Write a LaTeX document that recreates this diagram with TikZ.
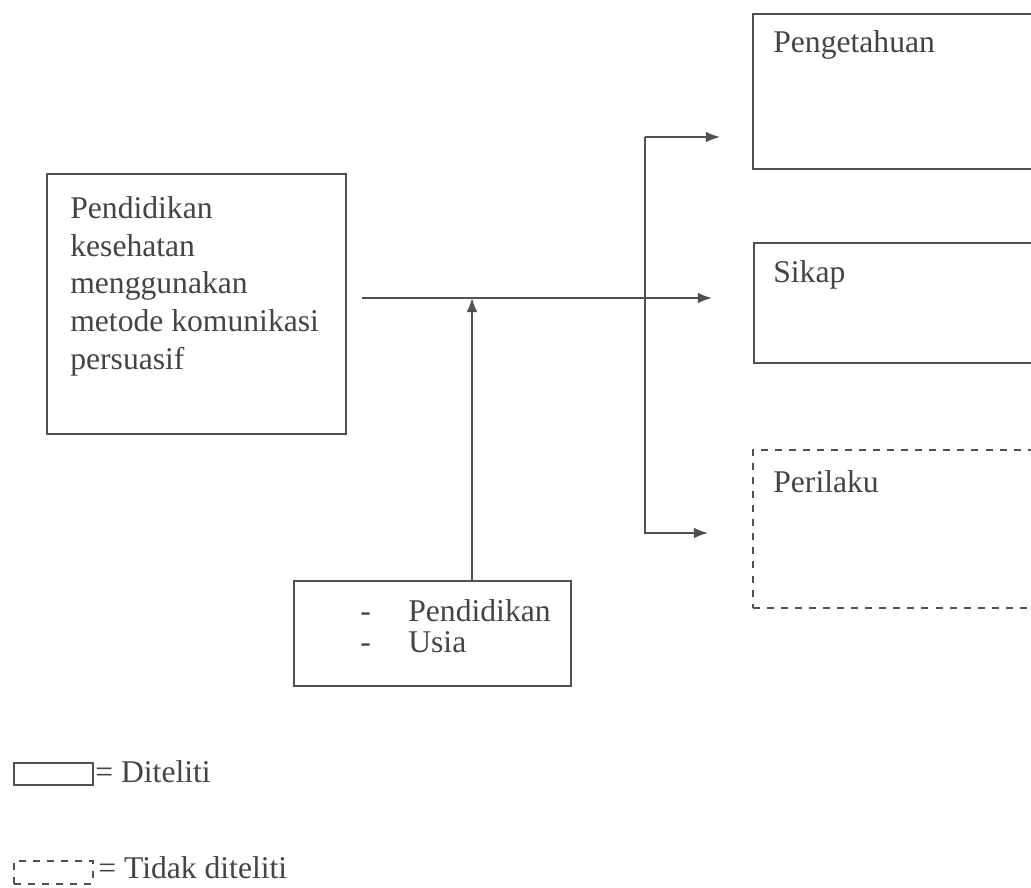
\documentclass[tikz,border=0pt]{standalone}
\usepackage{fontspec}
\setmainfont{Liberation Serif}
\usetikzlibrary{arrows.meta}
\definecolor{garis}{HTML}{505050}
\definecolor{tulisan}{HTML}{444444}
\tikzset{
  kotak/.style={draw=garis, line width=0.9pt, anchor=north west, inner sep=0pt},
  putus/.style={kotak, dash pattern=on 4pt off 4pt},
  teks/.style={anchor=base west, inner sep=0pt, text=tulisan, font=\fontsize{18}{21.5}\selectfont},
  panah/.style={draw=garis, line width=0.9pt, -{Latex[length=8pt,width=6pt]}}
}
\begin{document}
\begin{tikzpicture}[x=0.02cm, y=-0.02cm]
      \useasboundingbox (0,0) rectangle (1031,888);
      \clip (0,0) rectangle (1031,888);
      % kotak utama
      \node[kotak, minimum width=5.98cm, minimum height=5.2cm] (metode) at (46,173) {};
      \node[teks, align=left, anchor=north west] (metodeteks) at (70,196)
        {Pendidikan\\kesehatan\\menggunakan\\metode komunikasi\\persuasif};
      % variabel hasil
      \node[kotak, minimum width=6.16cm, minimum height=3.1cm] (tahu) at (752,13) {};
      \node[teks] (tahuteks) at (773,53) {Pengetahuan};
      \node[kotak, minimum width=6.16cm, minimum height=2.4cm] (sikap) at (753,242) {};
      \node[teks] (sikapteks) at (773,283) {Sikap};
      \node[putus, minimum width=6.16cm, minimum height=3.16cm] (laku) at (752,449) {};
      \node[teks] (lakuteks) at (773,492) {Perilaku};
      % variabel pengganggu
      \node[kotak, minimum width=5.54cm, minimum height=2.1cm] (ganggu) at (293,580) {};
      \node[teks] (strip1) at (360,621) {-};
      \node[teks] (didik) at (408,621) {Pendidikan};
      \node[teks] (strip2) at (360,652) {-};
      \node[teks] (usia) at (408,652) {Usia};
      % panah
      \coordinate (mulai) at (362,298);
      \coordinate (ujung) at (712,298);
      \coordinate (temu) at (472,298);
      \coordinate (bawah) at (472,580);
      \coordinate (atas1) at (645,137);
      \coordinate (atas2) at (720,137);
      \coordinate (bawah1) at (645,533);
      \coordinate (bawah2) at (708,533);
      \draw[panah] (mulai) -- (ujung);
      \draw[panah] (bawah) -- (temu);
      \draw[panah] (atas1) -- (atas2);
      \draw[panah] (atas1) -- (bawah1) -- (bawah2);
      % keterangan
      \node[kotak, minimum width=1.58cm, minimum height=0.44cm] (ketA) at (13,762) {};
      \node[teks, anchor=west] (ketAteks) at (95,772) {= Diteliti};
      \node[putus, minimum width=1.58cm, minimum height=0.46cm] (ketB) at (13,860) {};
      \node[teks, anchor=west] (ketBteks) at (98,868) {= Tidak diteliti};
\end{tikzpicture}
\end{document}
